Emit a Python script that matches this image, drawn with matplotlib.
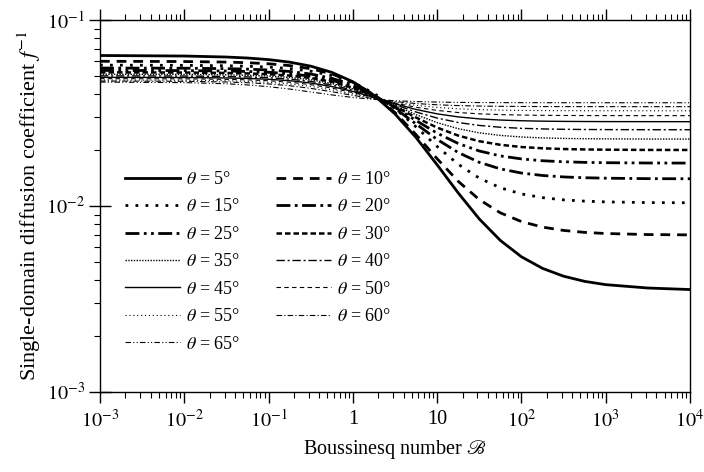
import matplotlib
matplotlib.use("Agg")
import matplotlib.pyplot as plt

plt.rcParams['font.family'] = ['Liberation Serif', 'DejaVu Serif']
plt.rcParams['mathtext.fontset'] = 'stix'

# Boussinesq number sample positions
B = [1e-3, 1e-2, 0.0316, 0.0562, 0.1, 0.178, 0.316, 0.562, 1.0, 1.78, 3.16, 5.62,
     10.0, 17.8, 31.6, 56.2, 100.0, 178.0, 316.0, 562.0, 1000.0, 3162.0, 10000.0]

theta = [5, 10, 15, 20, 25, 30, 35, 40, 45, 50, 55, 60, 65]

f5  = [0.06443, 0.06402, 0.06323, 0.06246, 0.06124, 0.05934, 0.05648, 0.05230, 0.04657, 0.03938, 0.03127, 0.02334, 0.01665, 0.01175, 0.00852, 0.00653, 0.005333, 0.00462, 0.004194, 0.003934, 0.003777, 0.003623, 0.003555]
f10 = [0.05998, 0.05980, 0.05939, 0.05894, 0.05817, 0.05686, 0.05472, 0.05134, 0.04629, 0.03960, 0.03181, 0.02418, 0.01795, 0.01357, 0.01082, 0.00919, 0.008246, 0.007702, 0.007391, 0.007214, 0.007113, 0.007022, 0.006994]
f15 = [0.05718, 0.05705, 0.05675, 0.05641, 0.05583, 0.05481, 0.05309, 0.05030, 0.04611, 0.04036, 0.03350, 0.02662, 0.02089, 0.01676, 0.01412, 0.01253, 0.01161, 0.01109, 0.01079, 0.01062, 0.01052, 0.01043, 0.01041]
f20 = [0.05518, 0.05505, 0.05476, 0.05443, 0.05386, 0.05288, 0.05124, 0.04862, 0.04472, 0.03951, 0.03349, 0.02761, 0.02280, 0.01938, 0.01717, 0.01583, 0.01504, 0.01459, 0.01433, 0.01419, 0.01411, 0.01403, 0.01401]
f25 = [0.05357, 0.05346, 0.05318, 0.05287, 0.05234, 0.05142, 0.04989, 0.04748, 0.04393, 0.03926, 0.03392, 0.02881, 0.02464, 0.02168, 0.01976, 0.01859, 0.01791, 0.01751, 0.01729, 0.01716, 0.01709, 0.01703, 0.01701]
f30 = [0.05229, 0.05218, 0.05192, 0.05162, 0.05111, 0.05024, 0.04879, 0.04653, 0.04324, 0.03901, 0.03432, 0.02990, 0.02639, 0.02390, 0.02230, 0.02133, 0.02076, 0.02043, 0.02024, 0.02014, 0.02008, 0.02002, 0.02001]
f35 = [0.05109, 0.05098, 0.05072, 0.05043, 0.04993, 0.04910, 0.04772, 0.04559, 0.04258, 0.03879, 0.03470, 0.03097, 0.02806, 0.02604, 0.02474, 0.02396, 0.02350, 0.02323, 0.02308, 0.02300, 0.02296, 0.02291, 0.02290]
f40 = [0.05008, 0.04998, 0.04971, 0.04943, 0.04894, 0.04811, 0.04677, 0.04474, 0.04194, 0.03857, 0.03508, 0.03201, 0.02970, 0.02811, 0.02711, 0.02651, 0.02616, 0.02596, 0.02585, 0.02578, 0.02575, 0.02571, 0.02570]
f45 = [0.04918, 0.04907, 0.04880, 0.04851, 0.04801, 0.04717, 0.04584, 0.04389, 0.04130, 0.03835, 0.03546, 0.03304, 0.03129, 0.03013, 0.02940, 0.02898, 0.02873, 0.02858, 0.02850, 0.02846, 0.02843, 0.02841, 0.02840]
f50 = [0.04838, 0.04826, 0.04797, 0.04766, 0.04714, 0.04628, 0.04495, 0.04306, 0.04070, 0.03815, 0.03580, 0.03394, 0.03265, 0.03181, 0.03130, 0.03100, 0.03083, 0.03073, 0.03067, 0.03064, 0.03062, 0.03061, 0.03060]
f55 = [0.04758, 0.04744, 0.04714, 0.04679, 0.04622, 0.04532, 0.04397, 0.04217, 0.04004, 0.03793, 0.03611, 0.03476, 0.03387, 0.03330, 0.03296, 0.03276, 0.03265, 0.03258, 0.03255, 0.03253, 0.03252, 0.03251, 0.03250]
f60 = [0.04697, 0.04681, 0.04642, 0.04600, 0.04534, 0.04432, 0.04290, 0.04117, 0.03934, 0.03771, 0.03644, 0.03556, 0.03500, 0.03466, 0.03447, 0.03435, 0.03429, 0.03425, 0.03423, 0.03422, 0.03421, 0.03420, 0.03420]
f65 = [0.04637, 0.04607, 0.04542, 0.04476, 0.04380, 0.04253, 0.04104, 0.03957, 0.03833, 0.03742, 0.03681, 0.03643, 0.03620, 0.03607, 0.03599, 0.03595, 0.03593, 0.03592, 0.03591, 0.03591, 0.03590, 0.03590, 0.03590]

series = [f5, f10, f15, f20, f25, f30, f35, f40, f45, f50, f55, f60, f65]

styles = [
    dict(ls='-', lw=2.0),
    dict(ls=(0, (3.5, 2.5)), lw=2.0),
    dict(ls=(0, (1.0, 2.6)), lw=2.0),
    dict(ls=(0, (5, 1.6, 1, 1.6)), lw=2.0),
    dict(ls=(0, (5, 1.6, 1, 1.6, 1, 1.6)), lw=2.0),
    dict(ls=(0, (2.2, 1.2)), lw=1.8),
    dict(ls=(0, (1, 1)), lw=1.0),
    dict(ls=(0, (6, 2, 1.5, 2)), lw=1.0),
    dict(ls='-', lw=1.0),
    dict(ls=(0, (4, 3)), lw=0.8),
    dict(ls=(0, (1, 2.5)), lw=0.8),
    dict(ls=(0, (5, 2, 1, 2)), lw=0.8),
    dict(ls=(0, (5, 2, 1, 2, 1, 2)), lw=0.8),
]

fig = plt.figure(figsize=(7.04, 4.72), dpi=100)
ax = fig.add_axes([100/704, 1-392/472, 590/704, 372/472])

handles = []
for th, fv, st in zip(theta, series, styles):
    h, = ax.plot(B, fv, color='black', label=r'$\theta$ = %d°' % th,
                 dash_capstyle='butt', **st)
    handles.append(h)

ax.set_xscale('log')
ax.set_yscale('log')
ax.set_xlim(1e-3, 1e4)
ax.set_ylim(1e-3, 1e-1)

xt = [1e-3, 1e-2, 1e-1, 1, 10, 1e2, 1e3, 1e4]
xtl = [r'$10^{-3}$', r'$10^{-2}$', r'$10^{-1}$', '1', '10', r'$10^{2}$', r'$10^{3}$', r'$10^{4}$']
ax.set_xticks(xt)
ax.set_xticklabels(xtl)
yt = [1e-3, 1e-2, 1e-1]
ytl = [r'$10^{-3}$', r'$10^{-2}$', r'$10^{-1}$']
ax.set_yticks(yt)
ax.set_yticklabels(ytl)

ax.tick_params(axis='x', which='major', direction='out', length=8, width=1.0,
               labelsize=14.5, top=True, pad=5)
ax.tick_params(axis='x', which='minor', direction='out', length=4, width=0.8, top=True)
ax.tick_params(axis='y', which='major', direction='inout', length=16, width=1.0,
               labelsize=14.5, right=False, pad=3)
ax.tick_params(axis='y', which='minor', direction='out', length=4, width=0.8, right=False)
for sp in ax.spines.values():
    sp.set_linewidth(1.0)

ax.set_xlabel(r'Boussinesq number $\mathscr{B}$', fontsize=14.5, labelpad=4)
ax.set_ylabel(r'Single-domain diffusion coefficient $f^{-1}$', fontsize=16, labelpad=2)

order = [0, 2, 4, 6, 8, 10, 12, 1, 3, 5, 7, 9, 11]
leg = ax.legend([handles[i] for i in order], [handles[i].get_label() for i in order],
                ncol=2, frameon=False, loc='upper left',
                bbox_to_anchor=(0.015, 0.638), fontsize=13,
                handlelength=3.05, handletextpad=0.35, labelspacing=0.58,
                columnspacing=1.93)

fig.savefig('out.png', dpi=100)
